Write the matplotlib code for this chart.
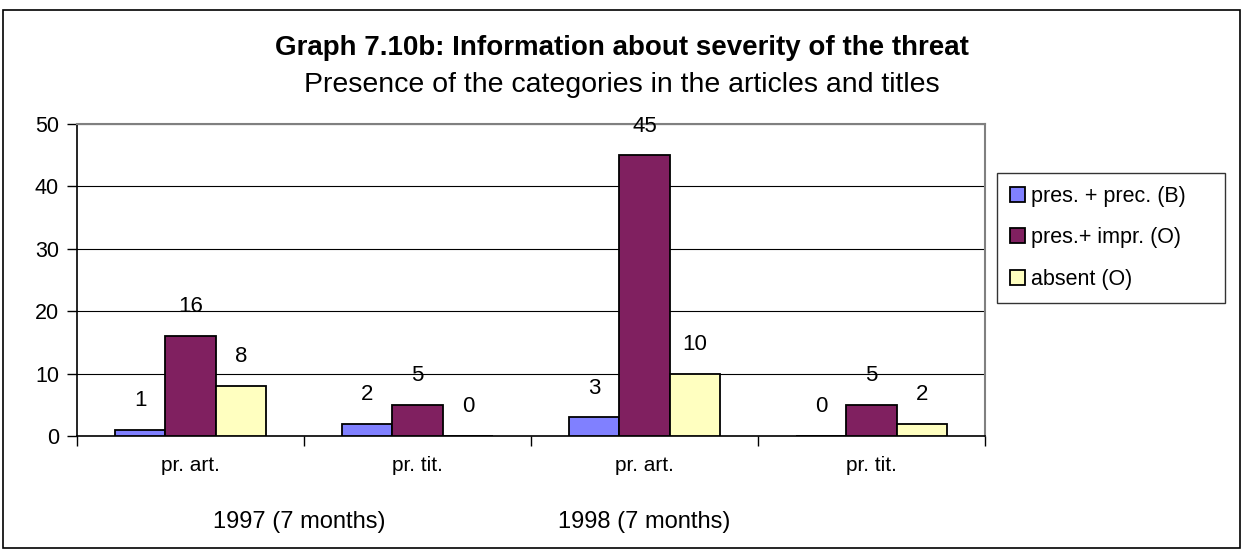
from matplotlib import pyplot as plt
from matplotlib.patches import Rectangle
import numpy as np

plt.rcParams['font.family'] = ['Liberation Sans', 'DejaVu Sans']

categories = ['pr. art.', 'pr. tit.', 'pr. art.', 'pr. tit.']
periods = ['1997 (7 months)', '1998 (7 months)']
series_names = ['pres. + prec. (B)', 'pres.+ impr. (O)', 'absent (O)']
precise = [1, 2, 3, 0]
imprecise = [16, 5, 45, 5]
absent = [8, 0, 10, 2]
colors = ['#8080FF', '#802060', '#FFFFC0']

W, H = 1243, 551
fig = plt.figure(figsize=(W / 100, H / 100), dpi=100)
fig.patch.set_facecolor('white')

# outer frame of the chart
fig.add_artist(Rectangle((3 / W, 3 / H), 1237 / W, 538 / H, transform=fig.transFigure,
                         fill=False, edgecolor='black', lw=1.2))

ax = fig.add_axes([77 / W, 1 - 436 / H, 908 / W, 312 / H])

x = np.arange(len(categories)) + 0.5
bw = 1 / 4.5
for i, (vals, name) in enumerate(zip([precise, imprecise, absent], series_names)):
    pos = x + (i - 1) * bw
    ax.bar(pos, vals, width=bw, color=colors[i], edgecolor='black', lw=1.3,
           label=name, zorder=3)
    for p, v in zip(pos, vals):
        ax.annotate(str(v), (p, v), xytext=(0, 21), textcoords='offset points',
                    ha='center', va='center', fontsize=16)

ax.set_xlim(0, len(categories))
ax.set_ylim(0, 50)
ax.set_yticks(np.arange(0, 51, 10))
ax.tick_params(axis='y', labelsize=15.5, length=7, width=1, direction='out', pad=6)
ax.set_xticks(np.arange(0, len(categories) + 1))
ax.set_xticklabels([])
ax.tick_params(axis='x', length=7, width=1, direction='out')
for xi, lab in zip(x, categories):
    ax.text(xi, -4.7, lab, ha='center', va='center', fontsize=15)
for xi, lab in zip([0.98, 2.5], periods):
    ax.text(xi, -13.8, lab, ha='center', va='center', fontsize=17)

ax.grid(axis='y', color='black', lw=0.8, zorder=0)
ax.spines['top'].set_color('gray')
ax.spines['right'].set_color('gray')
ax.spines['left'].set_linewidth(1.2)
ax.spines['bottom'].set_linewidth(1.2)
for s in ['top', 'right']:
    ax.spines[s].set_linewidth(1.5)

fig.text(0.5, 1 - 48 / H, 'Graph 7.10b: Information about severity of the threat',
         ha='center', va='center', fontsize=20, fontweight='bold')
fig.text(0.5, 1 - 85 / H, 'Presence of the categories in the articles and titles',
         ha='center', va='center', fontsize=20.5)

leg = ax.legend(loc='upper left', mode='expand',
                bbox_to_anchor=(997 / W, 1 - 299 / H, 228 / W, 126 / H),
                bbox_transform=fig.transFigure, borderaxespad=0, fontsize=15.5,
                frameon=True, fancybox=False, handlelength=0.7, handleheight=0.7,
                handletextpad=0.3, labelspacing=0.95, borderpad=0.6)
leg.get_frame().set_edgecolor('black')
leg.get_frame().set_linewidth(1.0)

fig.savefig('out.png', dpi=100)
